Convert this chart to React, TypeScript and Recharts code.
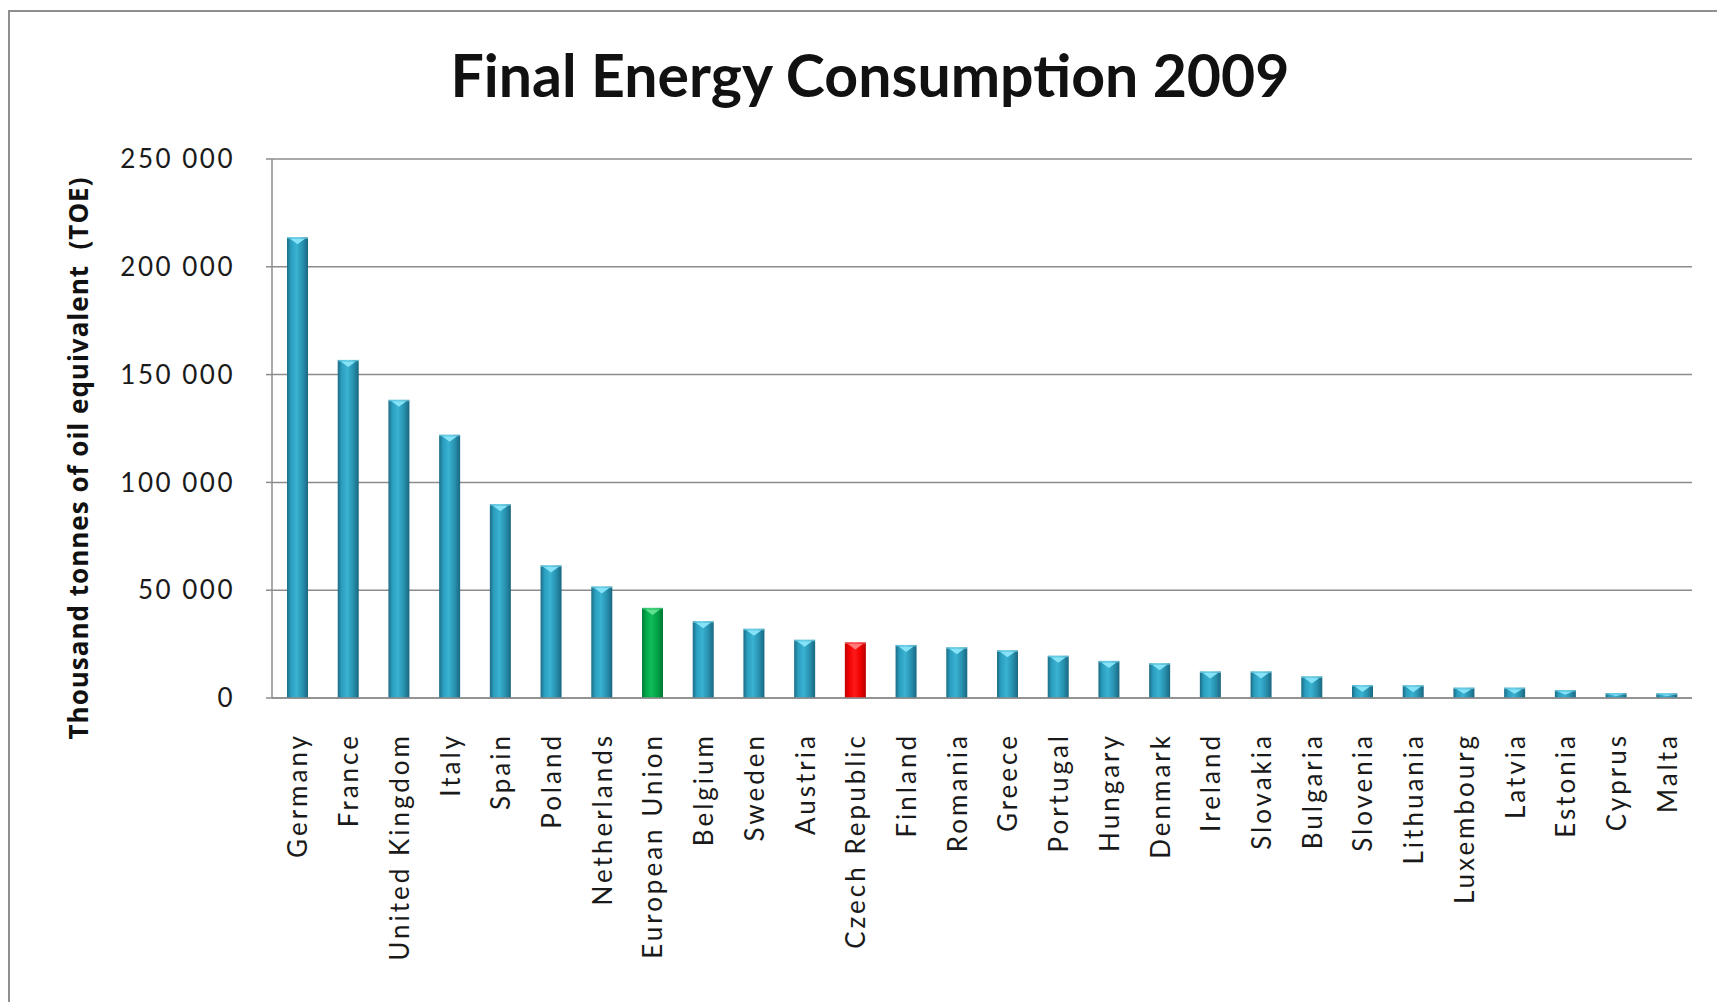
import { BarChart, Bar, XAxis, YAxis, CartesianGrid } from "recharts";

const categories = [
  "Germany", "France", "United Kingdom", "Italy", "Spain", "Poland", "Netherlands",
  "European Union", "Belgium", "Sweden", "Austria", "Czech Republic", "Finland", "Romania",
  "Greece", "Portugal", "Hungary", "Denmark", "Ireland", "Slovakia", "Bulgaria", "Slovenia",
  "Lithuania", "Luxembourg", "Latvia", "Estonia", "Cyprus", "Malta",
];

// thousand TOE
const consumption = [
  213700, 156800, 138300, 122100, 89900, 61500, 51700,
  41800, 35600, 32100, 27000, 25800, 24600, 23500,
  22100, 19600, 17200, 16100, 12300, 12300, 10000, 6000,
  5900, 4800, 4800, 3700, 2300, 2200,
];

const yTicks = [0, 50000, 100000, 150000, 200000, 250000];

const highlighted: Record<string, string> = {
  "European Union": "green",
  "Czech Republic": "red",
};

const data = categories.map((name, i) => ({
  name,
  value: consumption[i],
  tone: highlighted[name] ?? "blue",
}));

const capColor: Record<string, string> = {
  blue: "#86e3f7",
  green: "#5fe08f",
  red: "#ff7a7a",
};

const FONT = "Lato, 'Open Sans', sans-serif";

function fmt(v: number) {
  if (v === 0) return "0";
  return `${Math.round(v / 1000)} 000`;
}

function CylinderBar(props: any) {
  const { x, y, width, height } = props;
  const tone = props.payload?.tone ?? props.tone ?? "blue";
  if (!height || height <= 0) return null;
  const cap = Math.min(7, height * 0.6);
  return (
    <g>
      <rect x={x} y={y} width={width} height={height} fill={`url(#grad-${tone})`} />
      <rect x={x} y={y} width={width} height={1.5} fill={capColor[tone]} opacity={0.6} />
      <path
        d={`M${x + 3},${y + 1.5} L${x + width - 3},${y + 1.5} L${x + width / 2},${y + cap} Z`}
        fill={capColor[tone]}
      />
    </g>
  );
}

function CountryTick(props: any) {
  const { x, y, payload } = props;
  return (
    <text
      transform={`translate(${x + 10},${y}) rotate(-90)`}
      textAnchor="end"
      fontFamily={FONT}
      fontSize={26}
      letterSpacing={3}
      fill="#1a1a1a"
    >
      {payload.value}
    </text>
  );
}

export default function App() {
  return (
    <div style={{ position: "absolute", left: 0, top: 0, width: 1717, height: 1002, background: "#fff", overflow: "hidden" }}>
      <div
        style={{
          position: "absolute",
          left: 8,
          top: 10,
          width: 1717,
          height: 1002,
          border: "2px solid #8f8f8f",
          boxSizing: "border-box",
        }}
      />
      <div
        style={{
          position: "absolute",
          left: 370,
          width: 1000,
          top: 45,
          textAlign: "center",
          fontFamily: FONT,
          fontWeight: 700,
          fontSize: 59,
          lineHeight: "59px",
          color: "#111",
        }}
      >
        Final Energy Consumption 2009
      </div>
      <div
        style={{
          position: "absolute",
          left: 78 - 350,
          top: 458 - 17,
          width: 700,
          height: 34,
          lineHeight: "34px",
          textAlign: "center",
          transform: "rotate(-90deg)",
          transformOrigin: "50% 50%",
          fontFamily: "'Open Sans', sans-serif",
          fontWeight: 700,
          fontSize: 26,
          letterSpacing: 1,
          color: "#111",
          whiteSpace: "pre",
        }}
      >
        {"Thousand tonnes of oil equivalent  (TOE)"}
      </div>
      <div style={{ position: "absolute", left: 0, top: 0 }}>
        <BarChart
          width={1717}
          height={1002}
          data={data}
          margin={{ top: 159, right: 25, bottom: 0, left: 0 }}
        >
          <defs>
            <linearGradient id="grad-blue" x1="0" y1="0" x2="1" y2="0">
              <stop offset="0%" stopColor="#1b6b84" />
              <stop offset="18%" stopColor="#2a9dbd" />
              <stop offset="45%" stopColor="#3ab2d2" />
              <stop offset="75%" stopColor="#2790ae" />
              <stop offset="100%" stopColor="#1a6780" />
            </linearGradient>
            <linearGradient id="grad-green" x1="0" y1="0" x2="1" y2="0">
              <stop offset="0%" stopColor="#007a36" />
              <stop offset="20%" stopColor="#00a84a" />
              <stop offset="45%" stopColor="#10bb58" />
              <stop offset="75%" stopColor="#00a045" />
              <stop offset="100%" stopColor="#007534" />
            </linearGradient>
            <linearGradient id="grad-red" x1="0" y1="0" x2="1" y2="0">
              <stop offset="0%" stopColor="#c00000" />
              <stop offset="20%" stopColor="#f00000" />
              <stop offset="45%" stopColor="#ff1a1a" />
              <stop offset="75%" stopColor="#ee0000" />
              <stop offset="100%" stopColor="#b80000" />
            </linearGradient>
          </defs>
          <CartesianGrid vertical={false} stroke="#8c8c8c" strokeWidth={1.5} />
          <XAxis
            dataKey="name"
            interval={0}
            height={304}
            tickLine={false}
            tickSize={0}
            tickMargin={35}
            axisLine={{ stroke: "#8c8c8c", strokeWidth: 1.5 }}
            tick={<CountryTick />}
          />
          <YAxis
            width={272}
            domain={[0, 250000]}
            ticks={yTicks}
            interval={0}
            tickFormatter={fmt}
            tickSize={6}
            tickMargin={31}
            axisLine={{ stroke: "#8c8c8c", strokeWidth: 1.5 }}
            tickLine={{ stroke: "#8c8c8c", strokeWidth: 1.5 }}
            tick={{ fontFamily: FONT, fontSize: 26, fill: "#1a1a1a", letterSpacing: 2.5 }}
          />
          <Bar dataKey="value" barSize={21} shape={<CylinderBar />} isAnimationActive={false} />
        </BarChart>
      </div>
    </div>
  );
}
